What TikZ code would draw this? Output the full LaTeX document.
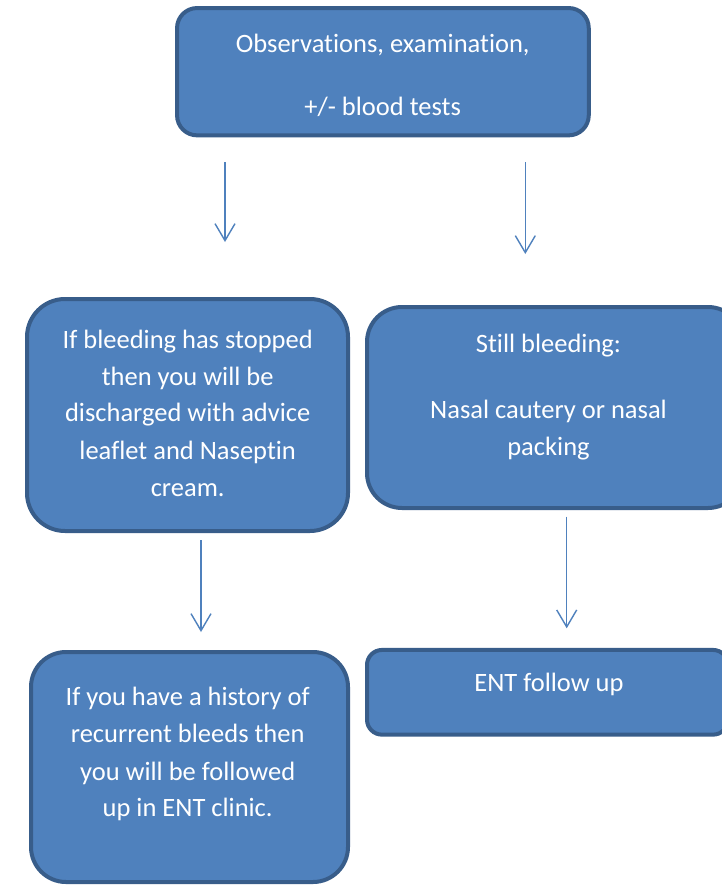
\documentclass[tikz,border=0pt]{standalone}
\usepackage{fontspec}
\setmainfont{Carlito}[Ligatures=CommonOff]
\usetikzlibrary{arrows.meta}
\definecolor{boxfill}{HTML}{4F81BD}
\definecolor{boxline}{HTML}{385D8A}
\definecolor{arrowcol}{HTML}{4F81BD}
\begin{document}
\begin{tikzpicture}[x=1pt,y=-1pt,
  box/.style={draw=boxline, fill=boxfill, line width=4pt, inner sep=0pt},
  txt/.style={anchor=base, text=white, inner sep=0pt, font=\fontsize{26.5}{37}\selectfont},
  flow/.style={draw=arrowcol, line width=1.4pt, -{Straight Barb[length=17pt,width=20pt]}}]
\useasboundingbox (0,0) rectangle (722,886);
\fill[white] (0,0) rectangle (722,886);

% boxes
\node[box, rounded corners=20pt, minimum width=411.7pt, minimum height=127.3pt] (top) at (382.9,71.7) {};
\node[box, rounded corners=38pt, minimum width=321pt, minimum height=232pt] (stop) at (187.5,415) {};
\node[box, rounded corners=35pt, minimum width=376pt, minimum height=201pt] (still) at (555,407.5) {};
\node[box, rounded corners=35pt, minimum width=317pt, minimum height=230pt] (hist) at (189.5,767) {};
\node[box, rounded corners=15pt, minimum width=361pt, minimum height=84.7pt] (ent) at (547.5,692.3) {};

% texts
\node[txt] (t1) at (382.7,52) {Observations, examination,};
\node[txt] (t2) at (382.7,115) {+/- blood tests};

\node[txt] (s1) at (187.7,348.3) {If bleeding has stopped};
\node[txt] (s2) at (187.7,385) {then you will be};
\node[txt] (s3) at (187.7,421.7) {discharged with advice};
\node[txt] (s4) at (187.7,459.3) {leaflet and Naseptin};
\node[txt] (s5) at (187.7,496) {cream.};

\node[txt] (b1) at (548.5,352.7) {Still bleeding:};
\node[txt] (b2) at (548.5,418.3) {Nasal cautery or nasal};
\node[txt] (b3) at (548.5,455.7) {packing};

\node[txt] (h1) at (187.7,705) {If you have a history of};
\node[txt] (h2) at (187.7,742.7) {recurrent bleeds then};
\node[txt] (h3) at (187.7,780) {you will be followed};
\node[txt] (h4) at (187.7,816.7) {up in ENT clinic.};

\node[txt] (e1) at (549,691.7) {ENT follow up};

% arrows
\coordinate (a1s) at (225,162);
\coordinate (a1e) at (225,242);
\coordinate (a2s) at (525.3,162);
\coordinate (a2e) at (525.3,254);
\coordinate (a3s) at (201,540);
\coordinate (a3e) at (201,632);
\coordinate (a4s) at (566.7,516.7);
\coordinate (a4e) at (566.7,628.3);
\draw[flow] (a1s) -- (a1e);
\draw[flow] (a2s) -- (a2e);
\draw[flow] (a3s) -- (a3e);
\draw[flow] (a4s) -- (a4e);
\end{tikzpicture}
\end{document}
